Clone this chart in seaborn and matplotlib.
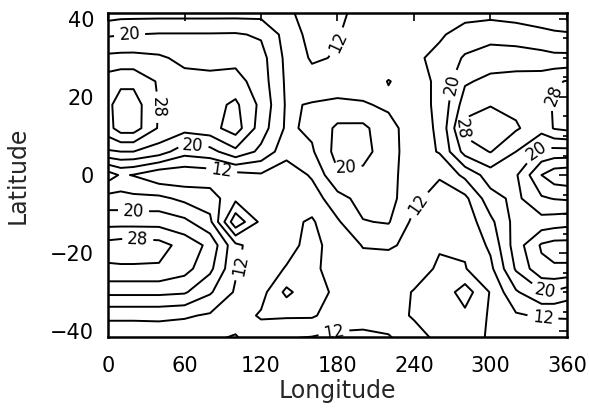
import numpy as np
import matplotlib
matplotlib.use("Agg")
import matplotlib.pyplot as plt
from matplotlib.ticker import MultipleLocator
import seaborn as sns

# Mapped field on a longitude x latitude grid (rows run north to south)
lons = [0, 10, 20, 40, 60, 80, 100, 120, 140, 160, 180, 200, 220, 240, 260, 280, 300, 320, 340, 350, 360]
lats = [42, 36, 30, 24, 18, 12, 6, 0, -6, -12, -18, -24, -30, -36, -42]

row_n42 = [13.5, 14, 14, 14, 14, 14, 14, 14.2, 12.8, 10, 11.3, 13, 14, 14, 14.5, 14.5, 14.5, 14, 13.5, 13.5, 13.5]
row_n36 = [19.5, 19.8, 20, 20.3, 20.3, 20.3, 20.4, 19.5, 14.5, 10.5, 11.8, 13.5, 14.5, 15, 15.5, 17.5, 18.5, 18, 17, 16.5, 16.3]
row_n30 = [25, 25.2, 25.2, 24.6, 23, 22.8, 22.8, 21.5, 15, 11.5, 12.3, 14, 14.5, 15.3, 17, 20.5, 22, 22, 21.5, 21, 21]
row_n24 = [30, 31, 31, 27.5, 25.3, 25, 25.5, 22, 15.3, 13.5, 13.5, 14.5, 16.1, 15, 16.5, 23.5, 25, 25.5, 26, 27.5, 28.2]
row_n18 = [31, 34, 34, 27.8, 26, 26.5, 28.8, 23, 15.5, 16.3, 17, 16.3, 15.5, 15, 16.5, 26, 27.8, 27, 26, 28.5, 30]
row_n12 = [30.5, 34, 34, 27.5, 25.5, 26.5, 30, 22, 15.3, 16.8, 20.8, 21, 17, 14.5, 16.5, 29.5, 30.5, 28.5, 25.5, 28.3, 29]
row_n06 = [23.5, 24, 24, 22, 17.5, 18.5, 23, 19, 13.5, 15.5, 21.5, 21.5, 17.5, 14, 16.3, 25.5, 28.2, 24, 19, 18.5, 18.5]
row_eq = [10, 12.5, 11.8, 9, 9, 9.5, 10.5, 11.5, 9.5, 12.5, 19.5, 19, 17.5, 13.5, 12.5, 17, 22, 20.5, 12, 9.5, 9]
row_s06 = [17.5, 17.5, 17, 17, 15, 14, 9, 9, 9.5, 10, 14.5, 17.5, 17.5, 13, 10, 11, 18.5, 21, 16.5, 15.8, 15.5]
row_s12 = [22.5, 22.5, 22.5, 22.5, 21, 17, 1, 9, 9, 7.5, 11.5, 15.8, 16.3, 11, 9.5, 9.5, 15, 21.5, 21.5, 22, 22.5]
row_s18 = [29.5, 30, 30, 29.5, 26.5, 23, 13, 9.5, 9, 7, 9.5, 12.2, 12.5, 11, 8.3, 8.5, 12.8, 22, 28.5, 29.5, 29.5]
row_s24 = [27.5, 27.5, 27.5, 27.5, 25.5, 21, 12.5, 9.5, 7.8, 7.5, 9, 10.5, 10, 9.5, 7.5, 7.8, 11, 20.5, 27, 27.5, 27.5]
row_s30 = [21, 21, 21, 21, 20.5, 16.5, 11.5, 9.5, 3, 7, 8.5, 10, 9.5, 7.8, 7, 2, 8.3, 15.5, 19.5, 19.5, 18]
row_s36 = [13, 13, 13, 13, 12.5, 11.5, 10, 7.5, 7.5, 7.5, 10, 10.5, 10, 7.5, 7, 5, 8.5, 11.5, 12.5, 12.5, 12.5]
row_s42 = [8.5, 8.5, 8.5, 9, 9, 8.5, 7.5, 10.5, 12, 12.5, 13, 13, 12.5, 10, 7, 7, 8.3, 8.5, 8.5, 8.5, 9]

plain_levels = [4, 8, 16, 24, 32]
labelled_levels = [12, 20, 28]

field = np.array([row_n42, row_n36, row_n30, row_n24, row_n18, row_n12, row_n06, row_eq,
                  row_s06, row_s12, row_s18, row_s24, row_s30, row_s36, row_s42])

sns.set_theme(style="white")
plt.rcParams["font.family"] = ["DejaVu Sans"]

fig = plt.figure(figsize=(5.89, 4.08), dpi=100)
ax = fig.add_axes([0.1834, 0.174, 0.7792, 0.794])

lon_grid, lat_grid = np.meshgrid(lons, lats)
ax.contour(lon_grid, lat_grid, field, levels=plain_levels, colors="black", linewidths=1.4)
cs = ax.contour(lon_grid, lat_grid, field, levels=labelled_levels, colors="black", linewidths=1.4)

# label anchors along the 12 / 20 / 28 isolines
label_spots = [(17, 35.4), (38, 17.4), (67, 8.5), (89, 0.8), (20, -10), (23, -18.7),
               (101, -23), (180, 34), (186, 3.8), (245, -8), (177, -40), (272, 23),
               (280, 12), (348, 20.5), (333, 7.7), (343, -30), (341, -36)]
ax.clabel(cs, manual=label_spots, fmt="%d", inline=True, fontsize=12)

ax.set_xlim(0, 360)
ax.set_ylim(-41.5, 41.5)
ax.xaxis.set_major_locator(MultipleLocator(60))
ax.yaxis.set_major_locator(MultipleLocator(20))
ax.yaxis.set_minor_locator(MultipleLocator(5))
ax.tick_params(which="both", direction="in", top=True, right=True, colors="black",
               labelsize=15, width=1.2)
ax.tick_params(which="major", length=5.5)
ax.tick_params(which="minor", length=3)
ax.tick_params(axis="x", which="major", pad=14)
ax.tick_params(axis="y", which="major", pad=10)
for side in ax.spines.values():
    side.set_color("black")
    side.set_linewidth(1.8)
ax.set_xlabel("Longitude", fontsize=17, labelpad=2)
ax.set_ylabel("Latitude", fontsize=17, labelpad=15)

fig.savefig("out.png", dpi=100, facecolor="white")
